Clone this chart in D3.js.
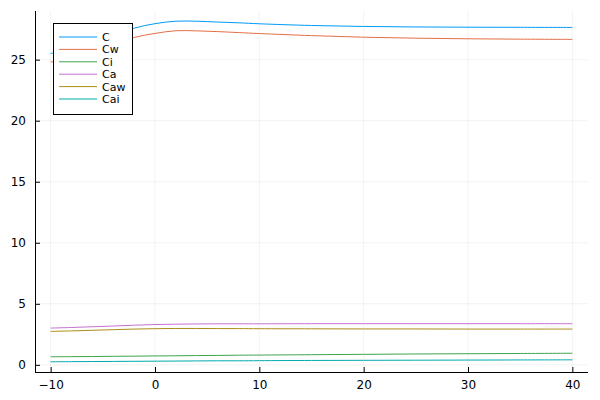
<!DOCTYPE html>
<html><head><meta charset="utf-8">
<script src="https://cdn.jsdelivr.net/npm/d3@7"></script>
<style>body{margin:0;background:#fff}svg{display:block;font-family:"DejaVu Sans",sans-serif}</style>
</head><body><svg id="c" width="600" height="400"></svg>
<script>
const xs = [-10,-8,-6,-4,-2,0,2,4,6,8,10,15,20,25,30,35,40];
const C   = [25.5,25.9,26.4,27.0,27.58,27.95,28.15,28.15,28.08,28.02,27.94,27.8,27.72,27.68,27.66,27.65,27.64];
const Cw  = [24.8,25.2,25.7,26.25,26.82,27.15,27.37,27.36,27.3,27.22,27.14,26.97,26.84,26.76,26.71,26.68,26.66];
const Ci  = [0.66,0.67,0.68,0.70,0.71,0.73,0.74,0.76,0.77,0.79,0.80,0.83,0.86,0.89,0.91,0.93,0.95];
const Ca  = [3.01,3.06,3.12,3.18,3.25,3.30,3.33,3.35,3.36,3.36,3.36,3.37,3.37,3.37,3.37,3.37,3.37];
const Caw = [2.74,2.78,2.83,2.88,2.93,2.96,2.98,2.98,2.97,2.97,2.96,2.95,2.94,2.94,2.93,2.93,2.93];
const Cai = [0.25,0.26,0.27,0.28,0.29,0.30,0.31,0.32,0.33,0.33,0.34,0.36,0.37,0.38,0.39,0.40,0.41];
const names = ["C","Cw","Ci","Ca","Caw","Cai"];
const colors = ["#009AFA","#E36F47","#3EA44E","#C371D2","#AC8E18","#00AAAE"];
const xTicks = [-10,0,10,20,30,40];
const yTicks = [0,5,10,15,20,25];

const series = [C,Cw,Ci,Ca,Caw,Cai].map((v,i)=>({name:names[i],color:colors[i],pts:xs.map((x,j)=>[x,v[j]])}));
const svg = d3.select("#c");
const L=35,R=588,T=11,B=372;
const xe = d3.extent(xs), xp=(xe[1]-xe[0])*0.03;
const allY = [].concat(C,Cw,Ci,Ca,Caw,Cai);
const ye = d3.extent(allY), yp=(ye[1]-ye[0])*0.03;
const x = d3.scaleLinear().domain([xe[0]-xp,xe[1]+xp]).range([L,R]);
const y = d3.scaleLinear().domain([ye[0]-yp,ye[1]+yp]).range([B,T]);

// grid
svg.append("g").selectAll("line").data(xTicks).join("line")
  .attr("x1",d=>x(d)).attr("x2",d=>x(d)).attr("y1",T).attr("y2",B)
  .attr("stroke","#000").attr("stroke-opacity",0.1).attr("stroke-width",0.5);
svg.append("g").selectAll("line").data(yTicks).join("line")
  .attr("y1",d=>y(d)).attr("y2",d=>y(d)).attr("x1",L).attr("x2",R)
  .attr("stroke","#000").attr("stroke-opacity",0.1).attr("stroke-width",0.5);

// axes
const xa = svg.append("g").attr("transform",`translate(0,${B})`)
  .call(d3.axisBottom(x).tickValues(xTicks).tickSizeInner(-5).tickSizeOuter(0).tickPadding(8));
const ya = svg.append("g").attr("transform",`translate(${L},0)`)
  .call(d3.axisLeft(y).tickValues(yTicks).tickSizeInner(-5).tickSizeOuter(0).tickPadding(9));
[xa,ya].forEach(a=>{
  a.select(".domain").attr("stroke","#000").attr("stroke-width",1);
  a.selectAll(".tick line").attr("stroke","#000").attr("stroke-width",1);
  a.selectAll("text").attr("font-size",12).attr("fill","#000").attr("font-family","DejaVu Sans, sans-serif");
});
xa.select(".domain").attr("d",`M${L},0.5H${R}`);
ya.select(".domain").attr("d",`M0.5,${B}V${T}`);

// lines
const line = d3.line().x(d=>x(d[0])).y(d=>y(d[1])).curve(d3.curveCatmullRom.alpha(0.5));
svg.append("g").selectAll("path").data(series).join("path")
  .attr("d",d=>line(d.pts)).attr("fill","none").attr("stroke",d=>d.color).attr("stroke-width",1);

// legend
const lg = svg.append("g").attr("transform","translate(53,23)");
lg.append("rect").attr("x",0.5).attr("y",0.5).attr("width",79).attr("height",91)
  .attr("fill","#fff").attr("stroke","#000").attr("stroke-width",1);
const ent = lg.selectAll("g").data(series).join("g").attr("transform",(d,i)=>`translate(0,${14+i*12.4})`);
ent.append("line").attr("x1",6).attr("x2",44).attr("y1",0).attr("y2",0).attr("stroke",d=>d.color).attr("stroke-width",1);
ent.append("text").attr("x",49).attr("y",4).attr("font-size",11).attr("fill","#000").text(d=>d.name);
</script></body></html>
